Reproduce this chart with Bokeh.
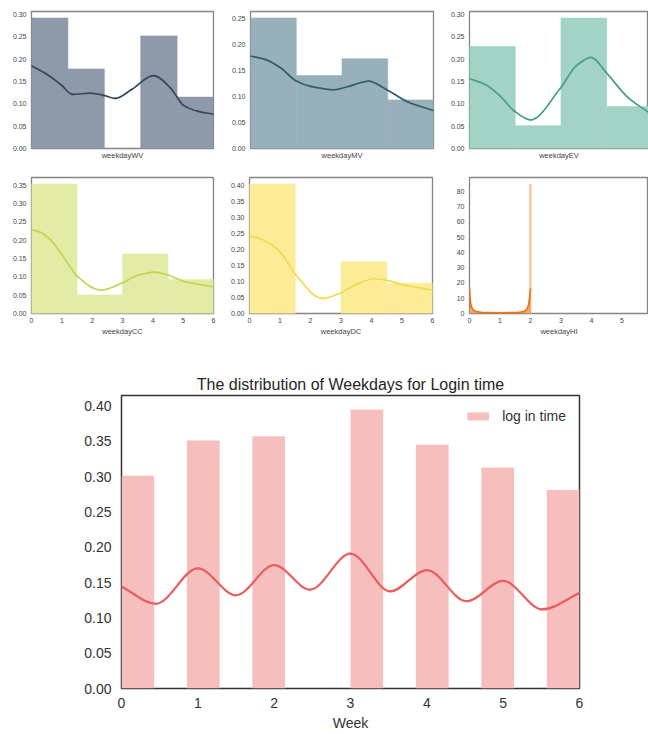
import numpy as np
from bokeh.plotting import figure
from bokeh.layouts import column, row
from bokeh.models import FixedTicker, PrintfTickFormatter, Range1d
from bokeh.embed import file_html
from bokeh.resources import INLINE

# ------------------------------------------------------------------ data
FONT = "Liberation Sans"

# histogram densities (bins spread evenly over 0..6)
wv_hist = [0.292, 0.178, 0.0, 0.252, 0.115]
mv_hist = [0.251, 0.1405, 0.1727, 0.0934]
ev_hist = [0.228, 0.051, 0.292, 0.094]
cc_hist = [0.353, 0.0505, 0.162, 0.093]
dc_hist = [0.406, 0.0, 0.162, 0.0945]

# kde curves
wv_kde_x = [0, 0.5, 1.0, 1.34, 1.94, 2.38, 2.76, 3.3, 4.02, 4.6, 4.8, 5.0, 5.5, 6.0]
wv_kde_y = [0.185, 0.166, 0.141, 0.121, 0.124, 0.119, 0.112, 0.132, 0.163, 0.134, 0.115, 0.097, 0.083, 0.077]
mv_kde_x = [0, 0.5, 1.04, 1.47, 2.0, 2.73, 3.3, 3.87, 4.47, 5.18, 6.0]
mv_kde_y = [0.178, 0.171, 0.153, 0.131, 0.119, 0.113, 0.121, 0.1295, 0.113, 0.089, 0.073]
ev_kde_x = [0, 0.5, 1.0, 1.45, 2.0, 2.96, 3.5, 3.99, 4.47, 5.2, 5.87]
ev_kde_y = [0.156, 0.144, 0.118, 0.085, 0.064, 0.133, 0.185, 0.204, 0.171, 0.114, 0.081]
cc_kde_x = [0, 0.25, 0.5, 0.75, 1.0, 1.25, 1.5, 2.3, 3.0, 3.5, 4.05, 4.5, 5.0, 6.0]
cc_kde_y = [0.228, 0.223, 0.210, 0.189, 0.161, 0.130, 0.102, 0.064, 0.084, 0.104, 0.113, 0.105, 0.088, 0.073]
dc_kde_x = [0, 0.25, 0.5, 0.75, 1.0, 1.25, 1.5, 2.4, 3.0, 3.5, 4.1, 4.6, 5.0, 6.0]
dc_kde_y = [0.242, 0.238, 0.228, 0.214, 0.193, 0.160, 0.123, 0.047, 0.065, 0.091, 0.109, 0.102, 0.091, 0.073]

hi_hist_left = [1.96]
hi_hist_right = [2.03]
hi_hist_top = [84.7]
hi_kde_x = [0, 0.03, 0.07, 0.15, 0.3, 0.6, 1.0, 1.4, 1.7, 1.85, 1.93, 1.97, 2.0]
hi_kde_y = [16, 8, 4, 2, 1, 0.6, 0.5, 0.6, 1, 2, 5, 10, 16]

small_yticks_030 = [0.0, 0.05, 0.10, 0.15, 0.20, 0.25, 0.30]
small_yticks_025 = [0.0, 0.05, 0.10, 0.15, 0.20, 0.25]
small_yticks_035 = [0.0, 0.05, 0.10, 0.15, 0.20, 0.25, 0.30, 0.35]
small_yticks_040 = [0.0, 0.05, 0.10, 0.15, 0.20, 0.25, 0.30, 0.35, 0.40]
hi_yticks = [0, 10, 20, 30, 40, 50, 60, 70, 80]
day_ticks = [0, 1, 2, 3, 4, 5, 6]

# bottom chart
week_days = [0, 1, 2, 3, 4, 5, 6]
login_density = [0.301, 0.351, 0.357, 0.395, 0.345, 0.313, 0.281]
login_bins = 14
login_kde_x = [0, 0.45, 1.0, 1.5, 2.0, 2.47, 3.0, 3.52, 4.0, 4.52, 5.0, 5.51, 6.0]
login_kde_y = [0.1445, 0.120, 0.170, 0.132, 0.1747, 0.140, 0.191, 0.1375, 0.1677, 0.1235, 0.1524, 0.112, 0.135]
login_yticks = [0.0, 0.05, 0.10, 0.15, 0.20, 0.25, 0.30, 0.35, 0.40]


# ------------------------------------------------------------------ helpers
def smooth(xs, ys):
    """Monotone cubic through the read points, expressed as bezier segments."""
    x = np.asarray(xs, float)
    y = np.asarray(ys, float)
    h = np.diff(x)
    d = np.diff(y) / h
    n = len(x)
    m = np.zeros(n)
    m[0] = d[0]
    m[-1] = d[-1]
    for k in range(1, n - 1):
        if d[k - 1] * d[k] <= 0:
            m[k] = 0.0
        else:
            w1 = 2 * h[k] + h[k - 1]
            w2 = h[k] + 2 * h[k - 1]
            m[k] = (w1 + w2) / (w1 / d[k - 1] + w2 / d[k])
    return dict(
        x0=x[:-1], y0=y[:-1], x1=x[1:], y1=y[1:],
        cx0=x[:-1] + h / 3, cy0=y[:-1] + m[:-1] * h / 3,
        cx1=x[1:] - h / 3, cy1=y[1:] - m[1:] * h / 3,
    )


def style(p, tick_size, label_size, outline_color, outline_width, text_color):
    p.xgrid.visible = False
    p.ygrid.visible = False
    p.outline_line_color = outline_color
    p.outline_line_width = outline_width
    p.background_fill_color = "white"
    p.border_fill_color = "white"
    for ax in p.axis:
        ax.axis_line_color = None
        ax.major_tick_line_color = None
        ax.minor_tick_line_color = None
        ax.major_tick_out = 0
        ax.major_tick_in = 0
        ax.minor_tick_out = 0
        ax.minor_tick_in = 0
        ax.major_label_text_font = FONT
        ax.major_label_text_font_size = tick_size
        ax.major_label_text_color = text_color
        ax.axis_label_text_font = FONT
        ax.axis_label_text_font_size = label_size
        ax.axis_label_text_font_style = "normal"
        ax.axis_label_text_color = text_color


def small_panel(label, width, height, borders, x_end, y_end, yticks, yfmt, show_xticks):
    left, right, top, bottom = borders
    p = figure(width=width, height=height,
               x_range=Range1d(0, x_end), y_range=Range1d(0, y_end),
               output_backend="svg", toolbar_location=None,
               min_border_left=left, min_border_right=right,
               min_border_top=top, min_border_bottom=bottom)
    style(p, "7px", "7.5px", "#858585", 1.3, "#444444")
    p.xaxis.axis_label = label
    p.yaxis.ticker = FixedTicker(ticks=yticks)
    p.yaxis.formatter = PrintfTickFormatter(format=yfmt)
    p.yaxis.major_label_standoff = 5
    if show_xticks:
        p.xaxis.ticker = FixedTicker(ticks=day_ticks)
        p.xaxis.major_label_standoff = 4
        p.xaxis.axis_label_standoff = 1
    else:
        p.xaxis.ticker = FixedTicker(ticks=[])
        p.xaxis.major_label_standoff = 0
        p.xaxis.axis_label_standoff = 2
    return p


def add_dist(p, hist, kx, ky, bar_color, line_color):
    edges = np.linspace(0, 6, len(hist) + 1)
    h = np.asarray(hist, float)
    keep = h > 0
    p.quad(left=edges[:-1][keep], right=edges[1:][keep], bottom=0, top=h[keep],
           fill_color=bar_color, line_color=bar_color, line_width=0.6)
    p.bezier(**smooth(kx, ky), line_color=line_color, line_width=1.7, line_cap="round")


def ymax(hist, ky):
    return 1.05 * max(max(hist), max(ky))


# ------------------------------------------------------------------ small panels
W1, W2, W3 = 226, 219, 203
B1 = (31, 13, 11, 25)
B2 = (24, 12, 11, 25)
B3 = (24, 0, 11, 25)
H1 = 173
B4 = (31, 13, 4, 32)
B5 = (23, 13, 4, 32)
B6 = (24, 0, 4, 32)
H2 = 172
CROP_END = 5.87

p_wv = small_panel("weekdayWV", W1, H1, B1, 6, ymax(wv_hist, wv_kde_y), small_yticks_030, "%.2f", False)
add_dist(p_wv, wv_hist, wv_kde_x, wv_kde_y, "#8e99aa", "#34495e")

p_mv = small_panel("weekdayMV", W2, H1, B2, 6, ymax(mv_hist, mv_kde_y), small_yticks_025, "%.2f", False)
add_dist(p_mv, mv_hist, mv_kde_x, mv_kde_y, "#97b0ba", "#2f5f6e")

p_ev = small_panel("weekdayEV", W3, H1, B3, CROP_END, ymax(ev_hist, ev_kde_y), small_yticks_030, "%.2f", False)
add_dist(p_ev, ev_hist, ev_kde_x, ev_kde_y, "#a2d3c4", "#46a087")

p_cc = small_panel("weekdayCC", W1, H2, B4, 6, ymax(cc_hist, cc_kde_y), small_yticks_035, "%.2f", True)
add_dist(p_cc, cc_hist, cc_kde_x, cc_kde_y, "#e2eca7", "#c3d64e")

p_dc = small_panel("weekdayDC", W2, H2, B5, 6, ymax(dc_hist, dc_kde_y), small_yticks_040, "%.2f", True)
add_dist(p_dc, dc_hist, dc_kde_x, dc_kde_y, "#fcec98", "#f0dc48")

p_hi = small_panel("weekdayHI", W3, H2, B6, CROP_END, ymax(hi_hist_top, hi_kde_y), hi_yticks, "%d", True)
p_hi.quad(left=hi_hist_left, right=hi_hist_right, bottom=0, top=hi_hist_top,
          fill_color="#f9c08e", line_color=None)
p_hi.varea(x=hi_kde_x, y1=0, y2=hi_kde_y, fill_color="#f39a4c", fill_alpha=0.8)
p_hi.bezier(**smooth(hi_kde_x, hi_kde_y), line_color="#ef7412", line_width=1.7, line_cap="round")

# ------------------------------------------------------------------ bottom chart
p = figure(width=648, height=388,
           x_range=Range1d(0, 6), y_range=Range1d(0, 1.05 * max(login_density)),
           title="The distribution of Weekdays for Login time",
           output_backend="svg", toolbar_location=None,
           min_border_left=121, min_border_right=69,
           min_border_top=50, min_border_bottom=41)
style(p, "14px", "14px", "#333333", 1.5, "#333333")
p.title.text_font = FONT
p.title.text_font_size = "16px"
p.title.text_font_style = "normal"
p.title.text_color = "#262626"
p.title.align = "center"
p.title.standoff = 5

bw = 6 / login_bins
idx = np.minimum(np.floor(np.asarray(week_days) / bw), login_bins - 1)
p.quad(left=idx * bw, right=(idx + 1) * bw, bottom=0, top=login_density,
       fill_color="#f7bebe", line_color=None, legend_label="log in time")
p.bezier(**smooth(login_kde_x, login_kde_y), line_color="#e85f5f", line_width=2.2, line_cap="round")

p.xaxis.axis_label = "Week"
p.xaxis.ticker = FixedTicker(ticks=day_ticks)
p.xaxis.major_label_standoff = 9
p.xaxis.axis_label_standoff = 4
p.yaxis.ticker = FixedTicker(ticks=login_yticks)
p.yaxis.formatter = PrintfTickFormatter(format="%.2f")
p.yaxis.major_label_standoff = 10

p.legend.location = "top_right"
p.legend.border_line_alpha = 0
p.legend.background_fill_alpha = 0
p.legend.label_text_font = FONT
p.legend.label_text_font_size = "14px"
p.legend.label_text_color = "#333333"
p.legend.glyph_width = 27
p.legend.glyph_height = 10
p.legend.label_height = 14
p.legend.label_standoff = 11
p.legend.margin = 10
p.legend.padding = 3

layout = column(row(p_wv, p_mv, p_ev), row(p_cc, p_dc, p_hi), p)

with open("out.html", "w") as f:
    f.write(file_html(layout, INLINE))
